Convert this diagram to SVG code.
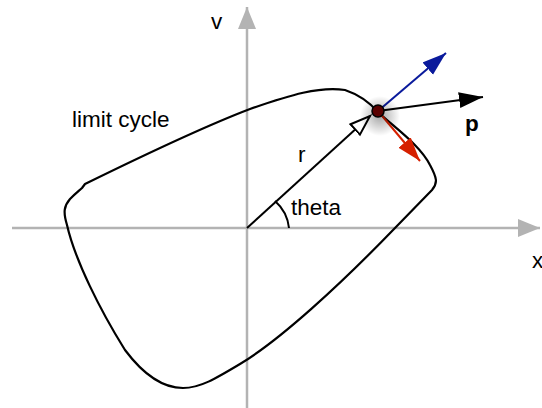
<svg xmlns="http://www.w3.org/2000/svg" width="542" height="408" viewBox="0 0 542 408">
<style>
.axis{stroke:#b3b3b3;stroke-width:2.5;fill:none}
.curve{stroke:#000;stroke-width:2.2;fill:none;stroke-linejoin:round}
.lbl{font-family:"Liberation Sans",Arial,sans-serif;font-size:22.5px;fill:#000}
</style>
<defs>
<marker id="ah-gray" markerUnits="userSpaceOnUse" markerWidth="24" markerHeight="20" refX="22" refY="9" orient="auto"><path d="M0,0 L22,9 L0,18 z" fill="#b3b3b3"/></marker>
<marker id="ah-black" markerUnits="userSpaceOnUse" markerWidth="26" markerHeight="18" refX="24" refY="8" orient="auto"><path d="M0,0 L24,8 L0,16 z" fill="#000"/></marker>
<marker id="ah-blue" markerUnits="userSpaceOnUse" markerWidth="26" markerHeight="18" refX="24" refY="8" orient="auto"><path d="M0,0 L24,8 L0,16 z" fill="#0a1a9c"/></marker>
<marker id="ah-red" markerUnits="userSpaceOnUse" markerWidth="26" markerHeight="18" refX="24" refY="8" orient="auto"><path d="M0,0 L24,8 L0,16 z" fill="#d62000"/></marker>
<marker id="ah-open" markerUnits="userSpaceOnUse" markerWidth="26" markerHeight="20" refX="21" refY="9" orient="auto"><path d="M1,2 L21,9 L1,16 z" fill="#fff" stroke="#000" stroke-width="2" stroke-linejoin="miter"/></marker>
<radialGradient id="glow"><stop offset="0" stop-color="#000" stop-opacity="0.35"/><stop offset="1" stop-color="#000" stop-opacity="0"/></radialGradient>
</defs>
<g id="axes">
<line class="axis" x1="12" y1="228" x2="540" y2="228" marker-end="url(#ah-gray)"/>
<line class="axis" x1="247" y1="408" x2="247" y2="7" marker-end="url(#ah-gray)"/>
</g>
<g id="limit-cycle">
<path class="curve" d="M85,184 C140,157 200,128 250,109 C290,95 320,86 345,90 C360,95 370,103 378,112 C395,128 420,145 430,165 C437,178 438,183 432,190 L395,228 C340,285 280,340 240,364 C215,379 200,388 183,388 C160,388 140,370 125,350 C100,310 75,260 67,225 C63,212 64,206 70,199 C76,193 80,190 82,188 Z"/>
</g>
<g id="connectors">
<line x1="247" y1="228" x2="370" y2="116" stroke="#000" stroke-width="2" marker-end="url(#ah-open)"/>
<path d="M275,201 A42,42 0 0 1 289,228" fill="none" stroke="#000" stroke-width="2"/>
<line x1="378" y1="111" x2="483" y2="97" stroke="#000" stroke-width="2" marker-end="url(#ah-black)"/>
<line x1="378" y1="111" x2="446" y2="53" stroke="#0a1a9c" stroke-width="2" marker-end="url(#ah-blue)"/>
<line x1="378" y1="111" x2="420" y2="161" stroke="#d62000" stroke-width="2" marker-end="url(#ah-red)"/>
</g>
<g id="point">
<circle cx="380" cy="116" r="20" fill="url(#glow)"/>
<circle cx="378" cy="111" r="6" fill="#5a0000" stroke="#000" stroke-width="1.5"/>
</g>
<g id="labels">
<text class="lbl" x="72" y="127">limit cycle</text>
<text class="lbl" x="298" y="162">r</text>
<text class="lbl" x="291" y="215">theta</text>
<text class="lbl" x="211" y="29">v</text>
<text class="lbl" x="532" y="268">x</text>
<text class="lbl" x="465" y="131" font-weight="bold">p</text>
</g>
</svg>
